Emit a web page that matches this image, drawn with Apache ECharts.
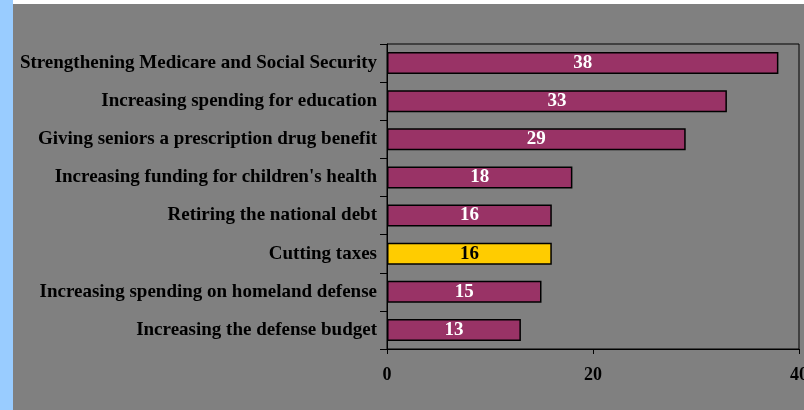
<!DOCTYPE html>
<html>
<head>
<meta charset="utf-8">
<script src="https://cdn.jsdelivr.net/npm/echarts@6/dist/echarts.min.js"></script>
<style>
html,body{margin:0;padding:0;background:#808080;overflow:hidden;width:804px;height:410px;}
#strip{position:absolute;left:0;top:0;width:13px;height:410px;background:#99CCFF;}
#topw{position:absolute;left:13px;top:0;width:791px;height:4px;background:#ffffff;}
#chart{position:absolute;left:13px;top:4px;width:791px;height:406px;}
</style>
</head>
<body>
<div id="strip"></div><div id="topw"></div>
<div id="chart"></div>
<script>
const categories = [
  "Strengthening Medicare and Social Security",
  "Increasing spending for education",
  "Giving seniors a prescription drug benefit",
  "Increasing funding for children's health",
  "Retiring the national debt",
  "Cutting taxes",
  "Increasing spending on homeland defense",
  "Increasing the defense budget"
];
const values = [38, 33, 29, 18, 16, 16, 15, 13];
const highlighted = [false, false, false, false, false, true, false, false];
const xTicks = [0, 20, 40];

const serif = "'Liberation Serif', 'Times New Roman', serif";
const chart = echarts.init(document.getElementById('chart'));
chart.setOption({
  backgroundColor: '#808080',
  animation: false,
  grid: {left: 374, top: 40, right: 5, bottom: 61, containLabel: false, outerBoundsMode: 'none',
         show: true, borderColor: '#000', borderWidth: 1, backgroundColor: 'transparent'},
  xAxis: {
    type: 'value', min: xTicks[0], max: xTicks[xTicks.length - 1], interval: xTicks[1] - xTicks[0],
    splitLine: {show: false},
    axisLine: {show: true, lineStyle: {color: '#000', width: 1}},
    axisTick: {show: true, inside: false, length: 5, lineStyle: {color: '#000'}},
    axisLabel: {color: '#000', fontFamily: serif, fontWeight: 'bold', fontSize: 18, margin: 17, hideOverlap: false}
  },
  yAxis: {
    type: 'category', data: categories, inverse: true,
    axisLine: {show: true, lineStyle: {color: '#000', width: 1}},
    axisTick: {show: true, inside: false, length: 7, lineStyle: {color: '#000'}},
    axisLabel: {color: '#000', fontFamily: serif, fontWeight: 'bold', fontSize: 19, margin: 10}
  },
  series: [{
    type: 'bar',
    barWidth: '58%',
    data: values.map((v, i) => ({
      value: v,
      itemStyle: {color: highlighted[i] ? '#FFCC00' : '#993366', borderColor: '#000', borderWidth: 1.5},
      label: {color: highlighted[i] ? '#000' : '#fff'}
    })),
    label: {show: true, position: 'inside', fontFamily: serif, fontWeight: 'bold', fontSize: 19}
  }]
});
</script>
</body>
</html>
